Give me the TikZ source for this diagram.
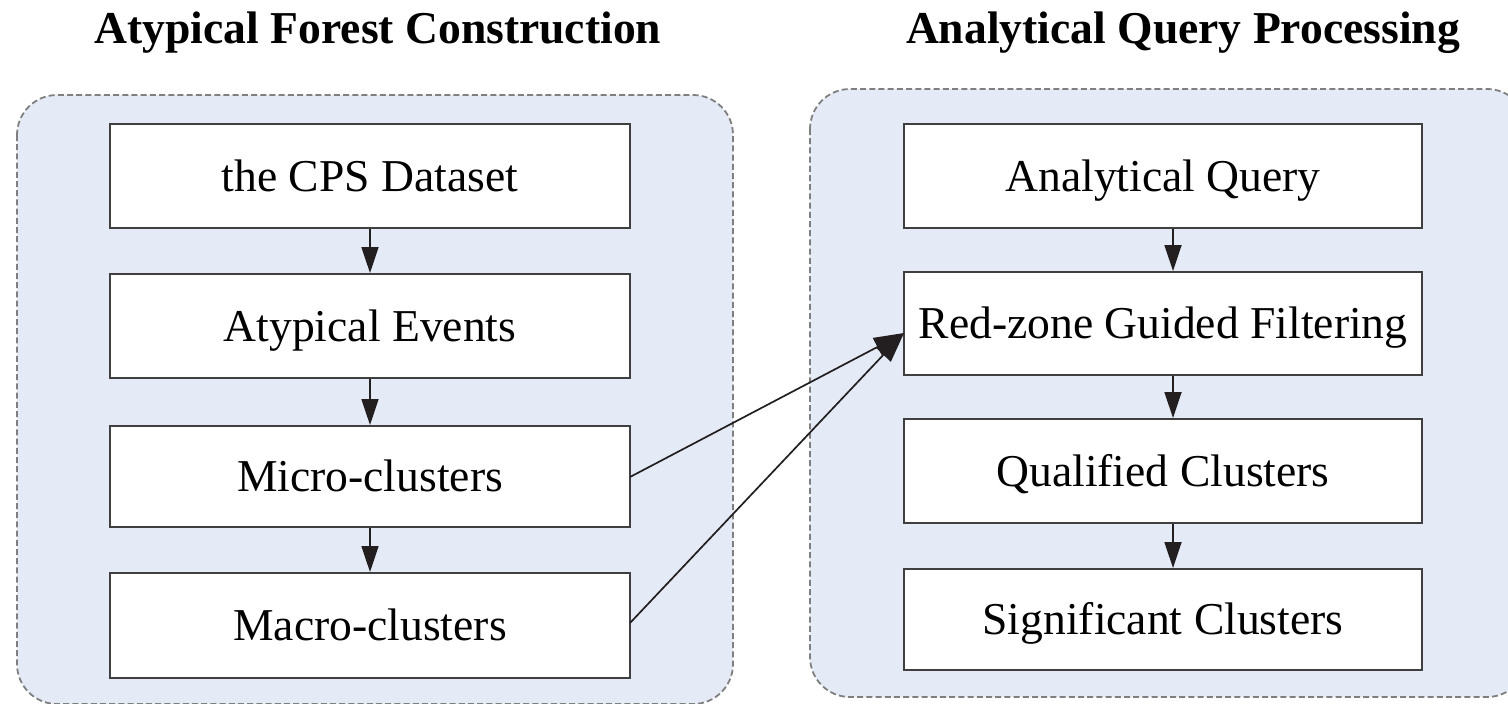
\documentclass[tikz,border=0pt]{standalone}
\usepackage{fontspec}
\setmainfont{Liberation Serif}
\usetikzlibrary{arrows.meta}
\definecolor{panelfill}{HTML}{E5EBF6}
\definecolor{panelline}{HTML}{7F7F7F}
\definecolor{boxline}{HTML}{3F3F3F}
\definecolor{arrowc}{HTML}{231F20}
\begin{document}
\begin{tikzpicture}[x=0.5pt,y=-0.5pt,
  panel/.style={fill=panelfill,draw=panelline,line width=0.9pt,dash pattern=on 3pt off 1.6pt,rounded corners=20pt},
  stepbox/.style={draw=boxline,fill=white,line width=1pt,minimum width=260pt,inner sep=0pt,
     font=\fontsize{22.8}{27}\selectfont,text height=15pt,text depth=0pt,anchor=center},
  title/.style={font=\fontsize{22.8}{27}\selectfont\bfseries,anchor=base,inner sep=0pt},
  flow/.style={draw=arrowc,line width=0.85pt,-{Triangle[length=13pt,width=8.5pt]}},
  bigflow/.style={draw=arrowc,line width=0.85pt,-{Triangle[length=15pt,width=10pt]}}]
\useasboundingbox (0,0) rectangle (1508,703);
\begin{scope}
\clip (0,0) rectangle (1508,703);
\draw[panel] (17,95) rectangle (733,704);
\draw[panel] (810,89) rectangle (1527,697);
\end{scope}
\node[title] (t1) at (378,43) {Atypical Forest Construction};
\node[title] (t2) at (1183,43) {Analytical Query Processing};
% left column
\node[stepbox,minimum height=52pt] (cps) at (370,176) {the CPS Dataset};
\node[stepbox,minimum height=52pt] (ae) at (370,326) {Atypical Events};
\node[stepbox,minimum height=50.5pt] (mic) at (370,476.5) {Micro-clusters};
\node[stepbox,minimum height=52.5pt] (mac) at (370,625.5) {Macro-clusters};
% right column
\node[stepbox,minimum width=259pt,minimum height=52pt] (aq) at (1163,176) {Analytical Query};
\node[stepbox,minimum width=259pt,minimum height=51.5pt] (rz) at (1163,323.5) {Red-zone Guided Filtering};
\node[stepbox,minimum width=259pt,minimum height=52pt] (qc) at (1163,471) {Qualified Clusters};
\node[stepbox,minimum width=259pt,minimum height=50.5pt] (sc) at (1163,619.5) {Significant Clusters};
\coordinate (ax) at (1173,0);
\coordinate (tip) at (904,333);
\coordinate (s1) at (630,477);
\coordinate (s2) at (630,623);
% arrows
\draw[flow] (cps.south) -- (ae.north);
\draw[flow] (ae.south) -- (mic.north);
\draw[flow] (mic.south) -- (mac.north);
\draw[flow] (aq.south -| ax) -- (rz.north -| ax);
\draw[flow] (rz.south -| ax) -- (qc.north -| ax);
\draw[flow] (qc.south -| ax) -- (sc.north -| ax);
\draw[bigflow] (s1) -- (tip);
\draw[bigflow] (s2) -- (tip);
\end{tikzpicture}
\end{document}
